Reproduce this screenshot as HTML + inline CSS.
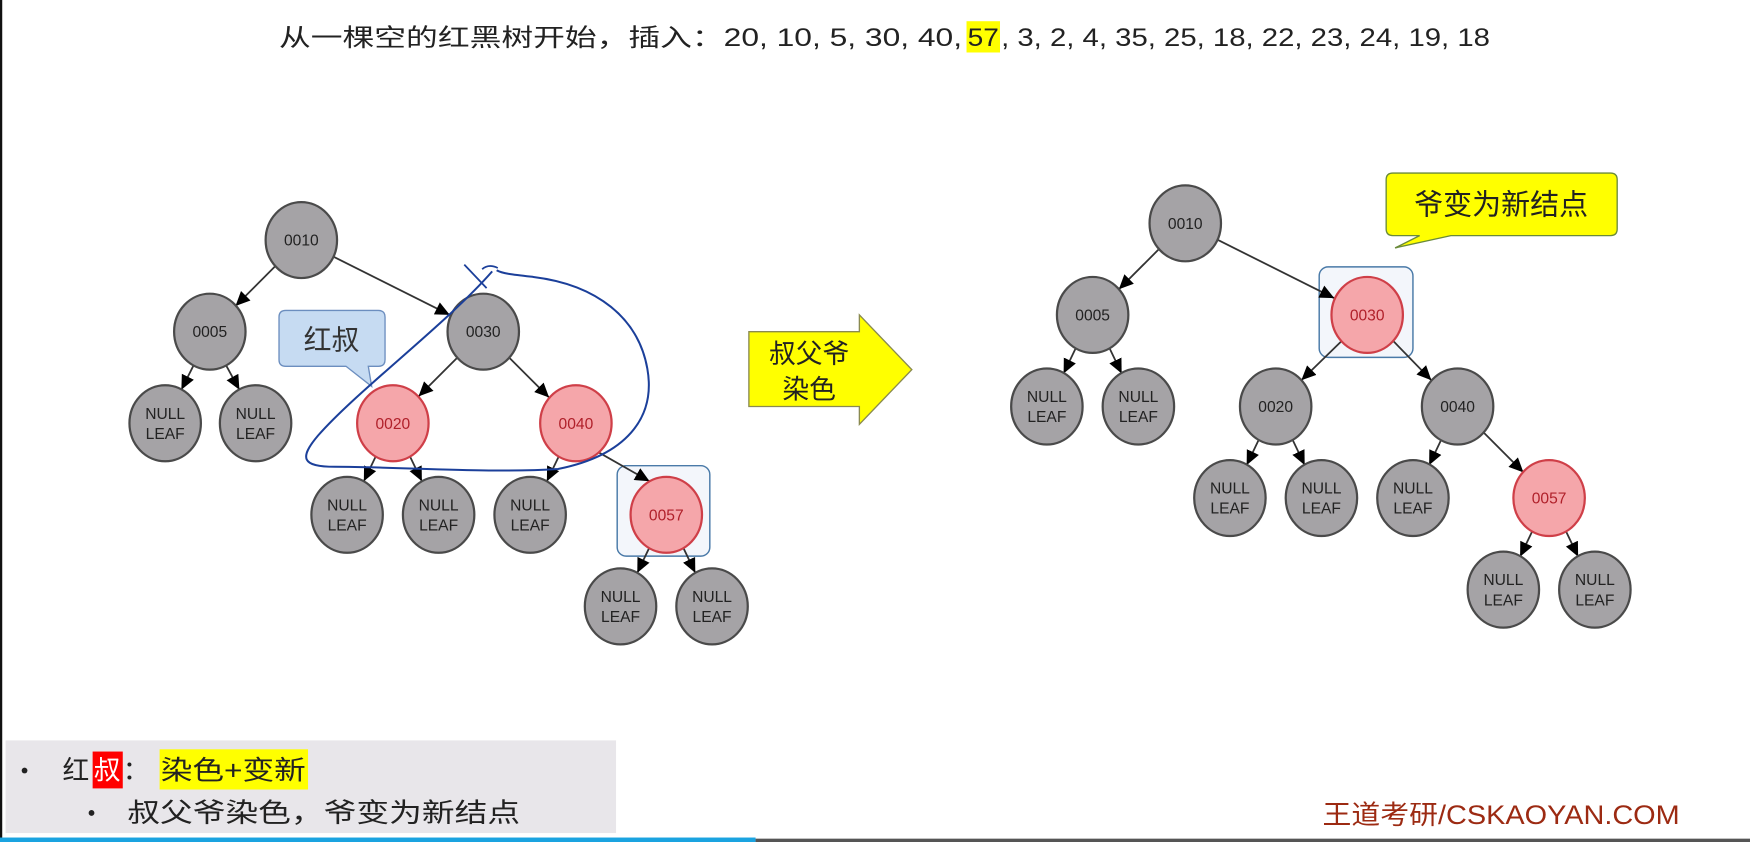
<!DOCTYPE html>
<html><head><meta charset="utf-8"><style>
html,body{margin:0;padding:0;background:#fff;}
svg{display:block;}
text{font-family:"Liberation Sans","Noto Sans CJK SC",sans-serif;}
.g{fill:#a5a3a6;stroke:#4a4a4a;stroke-width:2;}
.r{fill:#f5a6aa;stroke:#cf3f48;stroke-width:2;}
.e{stroke:#333;stroke-width:1.6;fill:none;marker-end:url(#ah);}
.nt{font-size:14px;fill:#222;text-anchor:middle;}
.rt{font-size:14px;fill:#b0202a;text-anchor:middle;}
</style></head><body>
<svg width="1750" height="842" viewBox="0 0 1568 754" preserveAspectRatio="none" xmlns="http://www.w3.org/2000/svg">
<defs>
<marker id="ah" markerUnits="userSpaceOnUse" markerWidth="14" markerHeight="14" refX="13" refY="7" orient="auto">
<path d="M0,1 L13,7 L0,13 Z" fill="#000"/>
</marker>
</defs>
<rect x="0" y="0" width="2" height="754" fill="#111"/>
<!-- title -->
<rect x="866" y="19" width="30" height="28" fill="#ffff00"/>
<text x="250" y="41" font-size="22" fill="#222" textLength="612" lengthAdjust="spacingAndGlyphs">从一棵空的红黑树开始，插入：20, 10, 5, 30, 40,</text>
<text x="867" y="41" font-size="22" fill="#222" textLength="28" lengthAdjust="spacingAndGlyphs">57</text>
<text x="897" y="41" font-size="22" fill="#222" textLength="438" lengthAdjust="spacingAndGlyphs">, 3, 2, 4, 35, 25, 18, 22, 23, 24, 19, 18</text>

<rect x="553" y="417" width="83" height="81" rx="8" fill="#f3f6fb" stroke="#4a7aa8" stroke-width="1.3"/>
<path class="e" d="M247,238 L211,274"/>
<path class="e" d="M299,230 L403,282"/>
<path class="e" d="M173.5,327 L162.5,349"/>
<path class="e" d="M202.5,327 L214.5,349"/>
<path class="e" d="M410,320 L375,355"/>
<path class="e" d="M456,320 L492,356"/>
<path class="e" d="M337,408 L326,431"/>
<path class="e" d="M367,408 L378,431"/>
<path class="e" d="M501,408 L490,431"/>
<path class="e" d="M531,402 L582,431"/>
<path class="e" d="M582,490 L571,513"/>
<path class="e" d="M612,490 L623,513"/>
<g>
<ellipse class="g" cx="270" cy="215" rx="32" ry="34"/><text class="nt" x="270" y="220">0010</text>
<ellipse class="g" cx="188" cy="297" rx="32" ry="34"/><text class="nt" x="188" y="302">0005</text>
<ellipse class="g" cx="433" cy="297" rx="32" ry="34"/><text class="nt" x="433" y="302">0030</text>
<ellipse class="g" cx="148" cy="379" rx="32" ry="34"/><text class="nt" x="148" y="375">NULL</text><text class="nt" x="148" y="393">LEAF</text>
<ellipse class="g" cx="229" cy="379" rx="32" ry="34"/><text class="nt" x="229" y="375">NULL</text><text class="nt" x="229" y="393">LEAF</text>
<ellipse class="r" cx="352" cy="379" rx="32" ry="34"/><text class="rt" x="352" y="384">0020</text>
<ellipse class="r" cx="516" cy="379" rx="32" ry="34"/><text class="rt" x="516" y="384">0040</text>
<ellipse class="g" cx="311" cy="461" rx="32" ry="34"/><text class="nt" x="311" y="457">NULL</text><text class="nt" x="311" y="475">LEAF</text>
<ellipse class="g" cx="393" cy="461" rx="32" ry="34"/><text class="nt" x="393" y="457">NULL</text><text class="nt" x="393" y="475">LEAF</text>
<ellipse class="g" cx="475" cy="461" rx="32" ry="34"/><text class="nt" x="475" y="457">NULL</text><text class="nt" x="475" y="475">LEAF</text>
<ellipse class="r" cx="597" cy="461" rx="32" ry="34"/><text class="rt" x="597" y="466">0057</text>
<ellipse class="g" cx="556" cy="543" rx="32" ry="34"/><text class="nt" x="556" y="539">NULL</text><text class="nt" x="556" y="557">LEAF</text>
<ellipse class="g" cx="638" cy="543" rx="32" ry="34"/><text class="nt" x="638" y="539">NULL</text><text class="nt" x="638" y="557">LEAF</text>
</g>
<path d="M256,278 L339,278 Q345,278 345,284 L345,322 Q345,328 339,328 L330,328 L333,346 L310,328 L256,328 Q250,328 250,322 L250,284 Q250,278 256,278 Z" fill="#c6dbf2" stroke="#6c8ebf" stroke-width="1.2"/>
<text x="297" y="313" font-size="25" text-anchor="middle" fill="#333">红叔</text>
<path d="M441,243 C400,290 320,350 285,390 C268,410 270,418 300,418 C360,418 440,424 500,420 C560,408 588,375 580,330 C572,285 535,255 478,248 C460,246 450,245 445,242" fill="none" stroke="#1b3f9a" stroke-width="1.8"/>
<path d="M416,237 L436,258 M432,241 Q438,236 446,240" fill="none" stroke="#1b3f9a" stroke-width="1.6"/>

<path d="M671,297 L770,297 L770,282 L817,331 L770,380 L770,364 L671,364 Z" fill="#ffff00" stroke="#8a8a50" stroke-width="1.2"/>
<text x="725" y="325" font-size="24" text-anchor="middle" fill="#222">叔父爷</text>
<text x="725" y="357" font-size="24" text-anchor="middle" fill="#222">染色</text>

<rect x="1182" y="239" width="84" height="81" rx="8" fill="#f3f6fb" stroke="#4a7aa8" stroke-width="1.3"/>
<path class="e" d="M1038.5,223 L1002.5,259"/>
<path class="e" d="M1091.5,215 L1195.5,267"/>
<path class="e" d="M964,311.5 L953,334.5"/>
<path class="e" d="M994,311.5 L1005,334.5"/>
<path class="e" d="M1202,305.5 L1166,340.5"/>
<path class="e" d="M1248.5,305.5 L1282.5,340.5"/>
<path class="e" d="M1128,393.5 L1117,416.5"/>
<path class="e" d="M1158,393.5 L1169,416.5"/>
<path class="e" d="M1291.5,393.5 L1280.5,416.5"/>
<path class="e" d="M1329,387 L1365,423"/>
<path class="e" d="M1373,475.5 L1362,498.5"/>
<path class="e" d="M1403,475.5 L1414,498.5"/>
<g>
<ellipse class="g" cx="1062" cy="200" rx="32" ry="34"/><text class="nt" x="1062" y="205">0010</text>
<ellipse class="g" cx="979" cy="282" rx="32" ry="34"/><text class="nt" x="979" y="287">0005</text>
<ellipse class="r" cx="1225" cy="282" rx="32" ry="34"/><text class="rt" x="1225" y="287">0030</text>
<ellipse class="g" cx="938" cy="364" rx="32" ry="34"/><text class="nt" x="938" y="360">NULL</text><text class="nt" x="938" y="378">LEAF</text>
<ellipse class="g" cx="1020" cy="364" rx="32" ry="34"/><text class="nt" x="1020" y="360">NULL</text><text class="nt" x="1020" y="378">LEAF</text>
<ellipse class="g" cx="1143" cy="364" rx="32" ry="34"/><text class="nt" x="1143" y="369">0020</text>
<ellipse class="g" cx="1306" cy="364" rx="32" ry="34"/><text class="nt" x="1306" y="369">0040</text>
<ellipse class="g" cx="1102" cy="446" rx="32" ry="34"/><text class="nt" x="1102" y="442">NULL</text><text class="nt" x="1102" y="460">LEAF</text>
<ellipse class="g" cx="1184" cy="446" rx="32" ry="34"/><text class="nt" x="1184" y="442">NULL</text><text class="nt" x="1184" y="460">LEAF</text>
<ellipse class="g" cx="1266" cy="446" rx="32" ry="34"/><text class="nt" x="1266" y="442">NULL</text><text class="nt" x="1266" y="460">LEAF</text>
<ellipse class="r" cx="1388" cy="446" rx="32" ry="34"/><text class="rt" x="1388" y="451">0057</text>
<ellipse class="g" cx="1347" cy="528" rx="32" ry="34"/><text class="nt" x="1347" y="524">NULL</text><text class="nt" x="1347" y="542">LEAF</text>
<ellipse class="g" cx="1429" cy="528" rx="32" ry="34"/><text class="nt" x="1429" y="524">NULL</text><text class="nt" x="1429" y="542">LEAF</text>
</g>
<path d="M1248,155 L1443,155 Q1449,155 1449,161 L1449,205 Q1449,211 1443,211 L1300,211 L1250,222 L1272,211 L1248,211 Q1242,211 1242,205 L1242,161 Q1242,155 1248,155 Z" fill="#ffff00" stroke="#6a8a3a" stroke-width="1.2"/>
<text x="1345" y="192" font-size="26" text-anchor="middle" fill="#222">爷变为新结点</text>

<rect x="5" y="663" width="547" height="83" fill="#e8e6ea"/>
<circle cx="22" cy="690" r="2.6" fill="#222"/>
<text x="56" y="698" font-size="24" fill="#222">红</text>
<rect x="83" y="673" width="27" height="33" fill="#ff0000"/>
<text x="84" y="698" font-size="24" fill="#fff">叔</text>
<text x="110" y="698" font-size="24" fill="#222">：</text>
<rect x="143" y="671" width="133" height="36" fill="#ffff00"/>
<text x="144" y="698" font-size="24" fill="#222" textLength="130" lengthAdjust="spacingAndGlyphs">染色+变新</text>
<circle cx="82" cy="728" r="2.6" fill="#222"/>
<text x="114" y="736" font-size="24" fill="#222" textLength="352" lengthAdjust="spacingAndGlyphs">叔父爷染色，爷变为新结点</text>
<text x="1185" y="738" font-size="24" fill="#9c2a12" textLength="320" lengthAdjust="spacingAndGlyphs">王道考研/CSKAOYAN.COM</text>
<rect x="0" y="750" width="677" height="4" fill="#1aa3e0"/>
<rect x="677" y="751" width="891" height="3" fill="#555"/>
</svg>
</body></html>
